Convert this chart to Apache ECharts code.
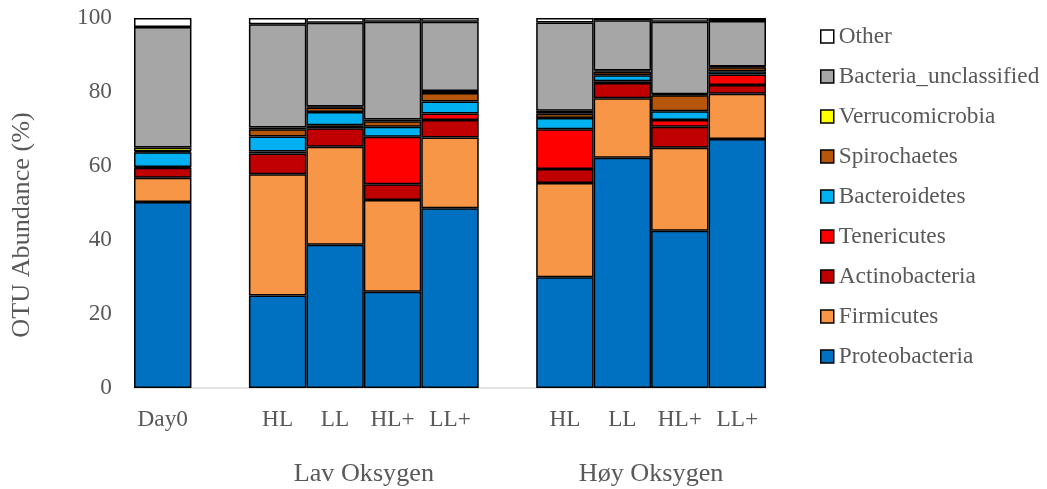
<!DOCTYPE html>
<html>
<head>
<meta charset="utf-8">
<script src="https://cdn.jsdelivr.net/npm/echarts@6/dist/echarts.min.js"></script>
<style>
html,body{margin:0;padding:0;background:#fff;}
#chart{width:1047px;height:489px;}
</style>
</head>
<body>
<div id="chart"></div>
<script>
const categories = ['Day0', '', 'HL', 'LL', 'HL+', 'LL+', '', 'HL', 'LL', 'HL+', 'LL+'];
const groupLabels = ['Lav Oksygen', 'Høy Oksygen'];
const groupFirst = [2, 7];
const groupLast = [5, 10];
const yTicks = [0, 20, 40, 60, 80, 100];

const proteobacteria        = [50.3, null, 25.0, 38.7, 26.0, 48.6, null, 29.9, 62.2, 42.5, 67.3];
const firmicutes            = [6.5,  null, 32.8, 26.5, 24.8, 19.1, null, 25.5, 16.1, 22.4, 12.2];
const actinobacteria        = [2.7,  null, 5.6,  5.0,  4.3,  4.7,  null, 3.8,  4.1,  5.7,  2.4];
const tenericutes           = [0.2,  null, 0.5,  0.8,  12.8, 1.8,  null, 10.7, 0.5,  1.8,  2.8];
const bacteroidetes         = [4.0,  null, 4.1,  3.6,  2.7,  3.2,  null, 3.1,  1.6,  2.4,  0.9];
const spirochaetes          = [0.3,  null, 1.9,  1.2,  1.5,  2.3,  null, 1.1,  1.0,  4.3,  1.1];
const verrucomicrobia       = [1.0,  null, 0.5,  0.3,  0.5,  0.6,  null, 0.8,  0.3,  0.3,  0.2];
const bacteriaUnclassified  = [32.6, null, 27.9, 22.6, 26.4, 18.7, null, 23.9, 13.6, 19.6, 12.3];
const other                 = [2.4,  null, 1.7,  1.3,  1.0,  1.0,  null, 1.2,  0.6,  1.0,  0.8];

const seriesDefs = [
  {name: 'Proteobacteria', data: proteobacteria, color: '#0070C0'},
  {name: 'Firmicutes', data: firmicutes, color: '#F79646'},
  {name: 'Actinobacteria', data: actinobacteria, color: '#C00000'},
  {name: 'Tenericutes', data: tenericutes, color: '#FF0000'},
  {name: 'Bacteroidetes', data: bacteroidetes, color: '#00B0F0'},
  {name: 'Spirochaetes', data: spirochaetes, color: '#B5560B'},
  {name: 'Verrucomicrobia', data: verrucomicrobia, color: '#FFFF00'},
  {name: 'Bacteria_unclassified', data: bacteriaUnclassified, color: '#A6A6A6'},
  {name: 'Other', data: other, color: '#FFFFFF'}
];

const textColor = '#595959';
const fontFamily = '"Liberation Serif", "Times New Roman", serif';
const smallFont = 23.3;
const bigFont = 26.2;

const chart = echarts.init(document.getElementById('chart'), null, {renderer: 'canvas'});

const groupCenters = groupFirst.map((f, i) => (f + groupLast[i]) / 2);

const option = {
  backgroundColor: '#ffffff',
  animation: false,
  textStyle: {fontFamily: fontFamily},
  grid: {left: 134, right: 281, top: 18, bottom: 101, containLabel: false},
  legend: {
    orient: 'vertical',
    left: 815,
    top: 20,
    itemWidth: 13,
    itemHeight: 13,
    itemGap: 17,
    icon: 'rect',
    data: seriesDefs.map(s => s.name).reverse(),
    itemStyle: {borderColor: '#000', borderWidth: 1.5},
    textStyle: {fontFamily: fontFamily, fontSize: smallFont, color: textColor}
  },
  xAxis: [
    {
      type: 'category',
      data: categories,
      axisLine: {show: true, lineStyle: {color: '#D9D9D9', width: 1.5}},
      axisTick: {show: false},
      axisLabel: {interval: 0, fontSize: smallFont, color: textColor, fontFamily: fontFamily, margin: 20},
      splitLine: {show: false}
    },
    {
      type: 'value',
      position: 'bottom',
      min: -0.5,
      max: categories.length - 0.5,
      axisLine: {show: false},
      axisTick: {show: false},
      splitLine: {show: false},
      axisLabel: {
        customValues: groupCenters,
        fontSize: bigFont,
        color: textColor,
        fontFamily: fontFamily,
        margin: 73,
        formatter: function (v) {
          const i = groupCenters.indexOf(v);
          return i >= 0 ? groupLabels[i] : '';
        }
      }
    }
  ],
  yAxis: {
    type: 'value',
    min: yTicks[0],
    max: yTicks[yTicks.length - 1],
    interval: yTicks[1] - yTicks[0],
    name: 'OTU Abundance (%)',
    nameLocation: 'middle',
    nameGap: 99,
    nameTextStyle: {fontSize: bigFont, color: textColor, fontFamily: fontFamily, padding: [0, 44, 0, 0]},
    axisLine: {show: false},
    axisTick: {show: false},
    splitLine: {show: false},
    axisLabel: {fontSize: smallFont, color: textColor, fontFamily: fontFamily, margin: 22}
  },
  series: seriesDefs.map(s => ({
    name: s.name,
    type: 'bar',
    stack: 'total',
    xAxisIndex: 0,
    barCategoryGap: '0%',
    data: s.data,
    itemStyle: {color: s.color, borderColor: '#000', borderWidth: 1.5}
  }))
};

chart.setOption(option);
</script>
</body>
</html>
